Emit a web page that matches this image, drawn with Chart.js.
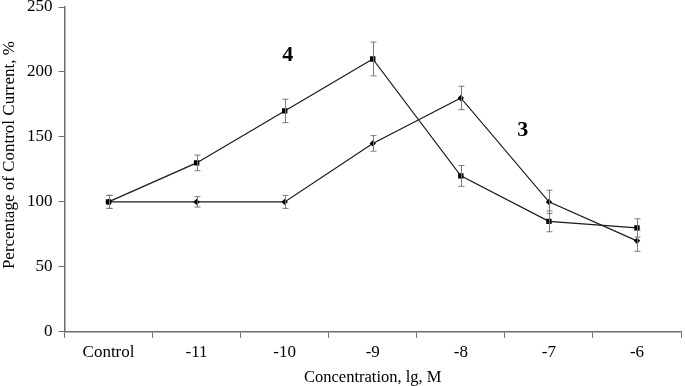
<!DOCTYPE html>
<html>
<head>
<meta charset="utf-8">
<script src="https://cdn.jsdelivr.net/npm/chart.js@4"></script>
<style>
  html, body { margin: 0; padding: 0; background: #fff; }
  #wrap { width: 685px; height: 386px; }
</style>
</head>
<body>
<div id="wrap"><canvas id="chart"></canvas></div>
<script>
// categories and values
const categories = ["Control", "-11", "-10", "-9", "-8", "-7", "-6"];
const series4 = [100, 130, 170, 210, 120, 85, 80];
const series4Err = [5, 6, 9, 13, 8, 8, 7];
const series3 = [100, 100, 100, 145, 180, 100, 70];
const series3Err = [5, 4, 5, 6, 9, 9, 8];
const yTicks = [0, 50, 100, 150, 200, 250];

const serif = "'Liberation Serif', 'DejaVu Serif', serif";

// error bars drawn from the data through the scales
const errorBars = {
    id: "errorBars",
    afterDatasetsDraw: (chart) => {
        const ctx = chart.ctx;
        const yAxis = chart.scales.y;
        ctx.save();
        ctx.strokeStyle = "#7a7a7a";
        ctx.lineWidth = 1;
        chart.data.datasets.forEach((ds, di) => {
            const meta = chart.getDatasetMeta(di);
            meta.data.forEach((pt, i) => {
                const v = ds.data[i];
                const e = ds.errors[i];
                const x = Math.round(pt.x) + 0.5;
                const yTop = yAxis.getPixelForValue(v + e);
                const yBot = yAxis.getPixelForValue(v - e);
                ctx.beginPath();
                ctx.moveTo(x, yTop);
                ctx.lineTo(x, yBot);
                ctx.moveTo(x - 3, yTop);
                ctx.lineTo(x + 3, yTop);
                ctx.moveTo(x - 3, yBot);
                ctx.lineTo(x + 3, yBot);
                ctx.stroke();
            });
        });
        ctx.restore();
    },
};

// series numbers and the y title (sits a bit above the axis middle)
const seriesLabels = {
    id: "seriesLabels",
    afterDraw: (chart) => {
        const ctx = chart.ctx;
        const xAxis = chart.scales.x;
        const yAxis = chart.scales.y;
        ctx.save();
        ctx.fillStyle = "#000";
        ctx.font = "bold 22px " + serif;
        ctx.textAlign = "center";
        ctx.textBaseline = "middle";
        ctx.fillText("4", xAxis.getPixelForValue(2) + 3, yAxis.getPixelForValue(213));
        ctx.fillText("3", (xAxis.getPixelForValue(4) + xAxis.getPixelForValue(5)) / 2 + 18, yAxis.getPixelForValue(155));

        ctx.font = "17px " + serif;
        ctx.translate(10, yAxis.getPixelForValue(136));
        ctx.rotate(-Math.PI / 2);
        ctx.fillText("Percentage of Control Current, %", 0, 0);
        ctx.restore();
    },
};

new Chart(document.getElementById("chart"), {
    type: "line",
    data: {
        labels: categories,
        datasets: [
            {
                label: "4",
                data: series4,
                errors: series4Err,
                borderColor: "#1a1a1a",
                backgroundColor: "#000",
                borderWidth: 1.2,
                pointStyle: "rect",
                pointRadius: 3.8,
                pointBorderWidth: 0,
                tension: 0,
            },
            {
                label: "3",
                data: series3,
                errors: series3Err,
                borderColor: "#1a1a1a",
                backgroundColor: "#000",
                borderWidth: 1.2,
                pointStyle: "rectRot",
                pointRadius: 3.2,
                pointBorderWidth: 0,
                tension: 0,
            },
        ],
    },
    options: {
        responsive: true,
        maintainAspectRatio: false,
        animation: false,
        layout: { padding: { top: 7, right: 2, left: 21, bottom: -2 } },
        scales: {
            x: {
                offset: true,
                grid: {
                    offset: true,
                    drawOnChartArea: false,
                    drawTicks: true,
                    tickLength: 6,
                    color: "#6e6e6e",
                },
                border: { color: "#6e6e6e", width: 1.5 },
                ticks: {
                    color: "#000",
                    font: { family: serif, size: 17 },
                    padding: 5,
                    maxRotation: 0,
                },
                title: {
                    display: true,
                    text: "Concentration, lg, M",
                    color: "#000",
                    font: { family: serif, size: 16.5 },
                    padding: { top: 0, bottom: 0 },
                },
            },
            y: {
                min: 0,
                max: 250,
                afterBuildTicks: (axis) => {
                    axis.ticks = yTicks.map((v) => ({ value: v }));
                },
                afterFit: (axis) => {
                    axis.paddingTop = 0;
                    axis.paddingBottom = 0;
                },
                grid: {
                    drawOnChartArea: false,
                    drawTicks: true,
                    tickLength: 6,
                    color: "#6e6e6e",
                },
                border: { color: "#6e6e6e", width: 1.5 },
                ticks: {
                    color: "#000",
                    font: { family: serif, size: 17 },
                    padding: 6,
                },
                title: { display: false },
            },
        },
        plugins: {
            legend: { display: false },
            tooltip: { enabled: false },
        },
    },
    plugins: [errorBars, seriesLabels],
});
</script>
</body>
</html>
